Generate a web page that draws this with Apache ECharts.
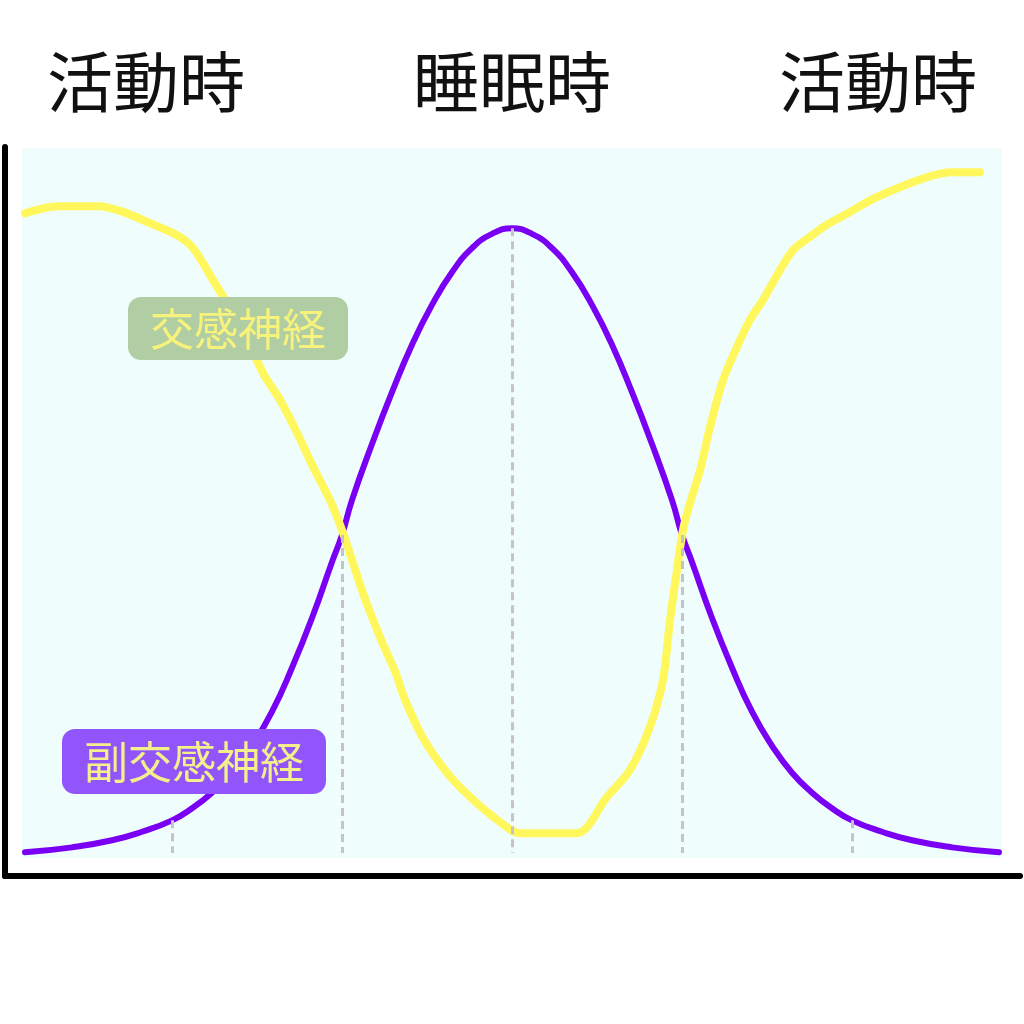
<!DOCTYPE html>
<html>
<head>
<meta charset="utf-8">
<script src="https://cdn.jsdelivr.net/npm/echarts@6/dist/echarts.min.js"></script>
<style>
    html, body { margin: 0; padding: 0; background: #fff; }
    #chart { width: 1024px; height: 1024px; }
</style>
</head>
<body>
<div id="chart"></div>
<script>
// 副交感神経 (purple)
const paraX = [0.3, 5, 9, 12, 15, 17, 19, 21, 23, 25, 27, 29, 31, 32, 33, 35, 37, 39, 41, 43, 45, 47, 49,
    51, 53, 55, 57, 59, 61, 63, 65, 66, 67, 69, 71, 73, 75, 77, 79, 81, 83, 86, 89, 93, 97.7];
const paraY = [0.8, 1.5, 2.5, 3.7, 5.3, 7.0, 9.2, 12.0, 15.8, 20.6, 26.8, 33.8, 41.7, 45.5, 50.4, 58.3, 65.6, 72.3, 77.9, 82.5, 85.9, 87.9, 88.7,
    87.9, 85.9, 82.5, 77.9, 72.3, 65.6, 58.3, 50.4, 45.5, 41.7, 33.8, 26.8, 20.6, 15.8, 12.0, 9.2, 7.0, 5.3, 3.7, 2.5, 1.5, 0.8];

// 交感神経 (yellow)
const sympX = [0.3, 3.6, 7.6, 10.1, 12.8, 15.5, 17.1, 19.1, 21.8, 24.1, 25.8, 27.5, 29.1, 30.8, 32.1, 34.1, 35.8, 37.3, 38.3,
    40.1, 42.5, 44.8, 47.5, 49.8, 55.5, 58.5, 60.8, 62.8, 64.1, 64.8, 65.5, 66.1, 66.8, 67.8, 68.8, 70.1, 71.5, 72.8, 74.1, 75.8, 77.1,
    78.8, 80.5, 82.8, 85.5, 90.5, 93.1, 95.8];
const sympY = [90.8, 91.8, 91.8, 91.0, 89.4, 87.7, 85.9, 81.4, 75.1, 68.3, 64.5, 59.9, 55.1, 50.4, 45.8, 37.3, 31.1, 26.3, 22.3,
    16.9, 12.0, 8.6, 5.4, 3.5, 3.5, 8.6, 12.4, 18.5, 25.1, 33.5, 40.6, 46.2, 50.0, 54.6, 60.7, 67.3, 72.0, 75.8, 78.6, 82.8, 85.6,
    87.5, 89.2, 91.0, 93.1, 95.9, 96.6, 96.6];

// 補助線 (dashed guides)
const guideX = [15, 32, 49, 66, 83];
const guideBottom = 0.7;

const phaseLabels = ["活動時", "睡眠時", "活動時"];
const seriesLabels = ["交感神経", "副交感神経"];

const zip = (xs, ys) => xs.map((x, i) => [x, ys[i]]);
const paraAt = x => paraY[paraX.indexOf(x)];

const chart = echarts.init(document.getElementById("chart"));

const hiddenAxis = {
    show: false
};
const blackAxis = {
    type: "value",
    gridIndex: 0,
    min: 0,
    max: 1,
    axisLine: {
        show: true,
        lineStyle: { color: "#000", width: 6 }
    },
    axisTick: { show: false },
    axisLabel: { show: false },
    splitLine: { show: false }
};

chart.setOption({
    backgroundColor: "#ffffff",
    animation: false,
    grid: [
        { left: 5, right: 4, top: 147, bottom: 148 },
        { left: 22, right: 22, top: 148, bottom: 166, show: true, backgroundColor: "#effdfd", borderWidth: 0 }
    ],
    xAxis: [
        blackAxis,
        Object.assign({ type: "value", gridIndex: 1, min: 0, max: 98 }, hiddenAxis)
    ],
    yAxis: [
        blackAxis,
        Object.assign({ type: "value", gridIndex: 1, min: 0, max: 100 }, hiddenAxis)
    ],
    series: [
        {
            name: seriesLabels[1],
            type: "line",
            xAxisIndex: 1,
            yAxisIndex: 1,
            smooth: true,
            showSymbol: false,
            symbol: "none",
            z: 3,
            lineStyle: { color: "#7a00f4", width: 6, cap: "round" },
            data: zip(paraX, paraY),
            markLine: {
                silent: true,
                symbol: "none",
                label: { show: false },
                lineStyle: { color: "#c4c4c8", width: 3, type: [8, 5] },
                data: guideX.map(x => [
                    { coord: [x, paraAt(x)] },
                    { coord: [x, guideBottom] }
                ])
            }
        },
        {
            name: seriesLabels[0],
            type: "line",
            xAxisIndex: 1,
            yAxisIndex: 1,
            smooth: 0.3,
            showSymbol: false,
            symbol: "none",
            z: 4,
            lineStyle: { color: "#fff75c", width: 8, cap: "round", join: "round" },
            data: zip(sympX, sympY)
        }
    ],
    graphic: [
        ...phaseLabels.map((t, i) => ({
            type: "text",
            x: [146, 512, 878][i],
            y: 82,
            style: {
                text: t,
                fontSize: 66,
                fontFamily: "Noto Sans CJK JP",
                fill: "#111",
                align: "center",
                verticalAlign: "middle"
            }
        })),
        {
            type: "text",
            x: 128,
            y: 297,
            z: 10,
            style: {
                text: seriesLabels[0],
                fontSize: 44,
                lineHeight: 44,
                fontFamily: "Noto Sans CJK JP",
                fill: "#f6f27c",
                backgroundColor: "#b1cda4",
                padding: [10, 22, 9, 22],
                borderRadius: 13
            }
        },
        {
            type: "text",
            x: 62,
            y: 729,
            z: 10,
            style: {
                text: seriesLabels[1],
                fontSize: 44,
                lineHeight: 44,
                fontFamily: "Noto Sans CJK JP",
                fill: "#f3f08c",
                backgroundColor: "#9155fb",
                padding: [11, 22, 10, 22],
                borderRadius: 13
            }
        }
    ]
});
</script>
</body>
</html>
